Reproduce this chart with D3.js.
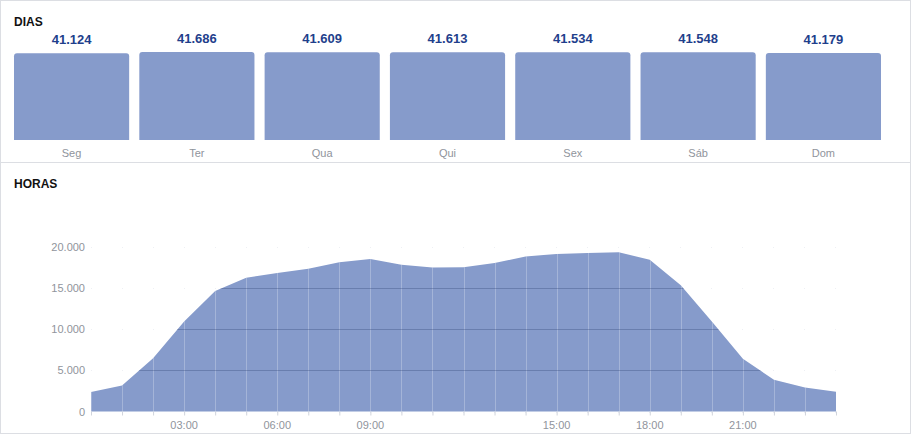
<!DOCTYPE html>
<html>
<head>
<meta charset="utf-8">
<script src="https://cdn.jsdelivr.net/npm/d3@7"></script>
<style>
  html, body { margin: 0; padding: 0; background: #fff; }
  svg { display: block; font-family: "Liberation Sans", Arial, sans-serif; }
</style>
</head>
<body>
<svg id="chart" width="911" height="435"></svg>
<script>
// ---- data ----
const days = ["Seg", "Ter", "Qua", "Qui", "Sex", "Sáb", "Dom"];
const dayValues = [41124, 41686, 41609, 41613, 41534, 41548, 41179];

const hours = [0,1,2,3,4,5,6,7,8,9,10,11,12,13,14,15,16,17,18,19,20,21,22,23,24];
const hourValues = [2350, 3150, 6450, 10900, 14600, 16200, 16800, 17300, 18100, 18500,
                    17800, 17450, 17500, 18000, 18800, 19100, 19200, 19300, 18400, 15300,
                    10900, 6400, 3850, 2900, 2400];
const yTicks = [0, 5000, 10000, 15000, 20000];
const xLabelHours = [3, 6, 9, 15, 18, 21];
const xLabels = ["03:00", "06:00", "09:00", "15:00", "18:00", "21:00"];

// ---- setup ----
const svg = d3.select("#chart");
const loc = d3.formatLocale({decimal: ",", thousands: ".", grouping: [3], currency: ["R$", ""]});
const fmt = loc.format(",d");
const fill = "#869bcb";

// panel borders
svg.append("rect").attr("x", 0.5).attr("y", 0.5).attr("width", 910).attr("height", 433)
  .attr("fill", "none").attr("stroke", "#dcdee3");
svg.append("line").attr("x1", 0).attr("x2", 911).attr("y1", 162.5).attr("y2", 162.5)
  .attr("stroke", "#dcdee3");

// ---- DIAS ----
svg.append("text").attr("x", 14).attr("y", 26).text("DIAS")
  .attr("font-size", 12).attr("font-weight", "bold").attr("fill", "#111");

const xb = d3.scaleBand().domain(days).range([14, 881]).paddingInner(0.081).paddingOuter(0);
const yb = d3.scaleLinear().domain([0, d3.max(dayValues)]).range([140, 52]);
const r = 3;

const bars = svg.append("g");
days.forEach((d, i) => {
  const x0 = xb(d), w = xb.bandwidth(), yt = yb(dayValues[i]), y1 = yb(0);
  const p = d3.path();
  p.moveTo(x0, y1);
  p.lineTo(x0, yt + r);
  p.quadraticCurveTo(x0, yt, x0 + r, yt);
  p.lineTo(x0 + w - r, yt);
  p.quadraticCurveTo(x0 + w, yt, x0 + w, yt + r);
  p.lineTo(x0 + w, y1);
  p.closePath();
  bars.append("path").attr("d", p.toString()).attr("fill", fill);
  bars.append("text").attr("x", x0 + w / 2).attr("y", yt - 9)
    .attr("text-anchor", "middle").attr("font-size", 13).attr("font-weight", "bold")
    .attr("fill", "#1f3f8c").text(fmt(dayValues[i]));
  bars.append("text").attr("x", x0 + w / 2).attr("y", 157)
    .attr("text-anchor", "middle").attr("font-size", 11)
    .attr("fill", "#90949c").text(d);
});

// ---- HORAS ----
svg.append("text").attr("x", 14).attr("y", 188).text("HORAS")
  .attr("font-size", 12).attr("font-weight", "bold").attr("fill", "#111");

const x = d3.scaleLinear().domain([0, 24]).range([91, 836]);
const y = d3.scaleLinear().domain([0, 20000]).range([411.5, 246.5]);

// faint background grid
const gBack = svg.append("g");
yTicks.forEach(t => {
  gBack.append("line").attr("x1", x(0)).attr("x2", x(24))
    .attr("y1", Math.round(y(t)) + 0.5).attr("y2", Math.round(y(t)) + 0.5)
    .attr("stroke", "#eef0f4").attr("stroke-dasharray", "1,30").attr("stroke-width", 1);
});

const area = d3.area().x((d, i) => x(hours[i])).y0(y(0)).y1(d => y(d));
svg.append("path").datum(hourValues).attr("d", area).attr("fill", fill);

// grid over the area (clipped to area)
svg.append("clipPath").attr("id", "areaClip")
  .append("path").datum(hourValues).attr("d", area);
const gOver = svg.append("g").attr("clip-path", "url(#areaClip)");
hours.forEach(h => {
  gOver.append("line").attr("x1", Math.round(x(h)) + 0.5).attr("x2", Math.round(x(h)) + 0.5)
    .attr("y1", y(20000)).attr("y2", y(0))
    .attr("stroke", "rgba(255,255,255,0.25)");
});
yTicks.filter(t => t > 0).forEach(t => {
  gOver.append("line").attr("x1", x(0)).attr("x2", x(24))
    .attr("y1", Math.round(y(t)) + 0.5).attr("y2", Math.round(y(t)) + 0.5)
    .attr("stroke", "rgba(40,60,110,0.3)");
});

// y axis labels
const yAxis = d3.axisLeft(y).tickValues(yTicks).tickSize(0).tickPadding(6).tickFormat(fmt);
const gy = svg.append("g").attr("transform", `translate(${x(0)},0)`).call(yAxis);
gy.select(".domain").remove();
gy.selectAll("text").attr("font-size", 11).attr("fill", "#90949c")
  .attr("font-family", "Liberation Sans, Arial, sans-serif");

// x axis ticks
const xAxis = d3.axisBottom(x).tickValues(hours).tickSize(4).tickFormat("");
const gx = svg.append("g").attr("transform", `translate(0,${y(0)})`).call(xAxis);
gx.select(".domain").remove();
gx.selectAll("line").attr("stroke", "#d0d4dc");

// x labels
xLabelHours.forEach((h, i) => {
  svg.append("text").attr("x", x(h)).attr("y", 429).attr("text-anchor", "middle")
    .attr("font-size", 11).attr("fill", "#90949c").text(xLabels[i]);
});
</script>
</body>
</html>
